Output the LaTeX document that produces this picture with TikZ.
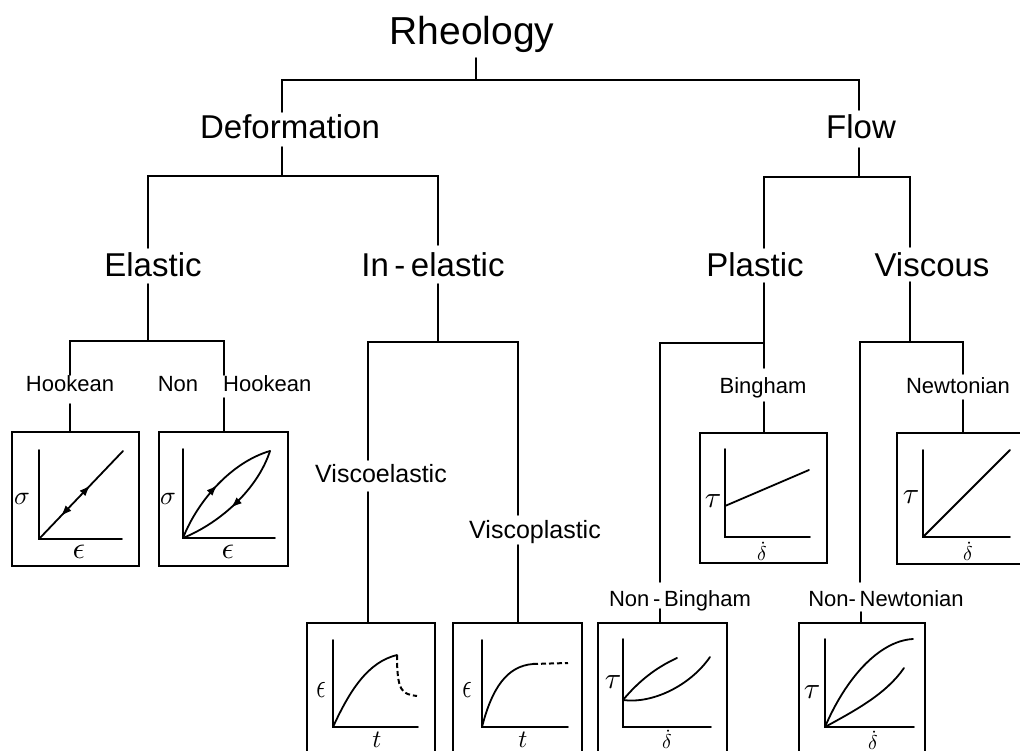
\documentclass[tikz,border=0pt]{standalone}
\usepackage{fontspec}
\setmainfont{Liberation Sans}
\usetikzlibrary{arrows.meta,decorations.markings}
\newcommand{\mysig}{\scalebox{2.6}{$\sigma$}}
\newcommand{\myeps}{\scalebox{3.1}{$\epsilon$}}
\newcommand{\myepsn}{\scalebox{2.3}[3.5]{$\epsilon$}}
\newcommand{\mytau}{\scalebox{3}{$\tau$}}
\newcommand{\myt}{\scalebox{2.5}{$t$}}
\newcommand{\mydd}{\scalebox{2}{$\dot{\delta}$}}
\tikzset{
  conn/.style={line width=1.8pt, line cap=round, line join=miter},
  boxst/.style={draw, line width=2pt, rectangle, minimum width=#1, minimum height=134pt, inner sep=0pt},
  plotl/.style={line width=1.8pt, line cap=round},
  dashl/.style={line width=2pt, dash pattern=on 5pt off 3pt},
  big/.style={anchor=base, inner sep=0pt, font=\fontsize{39}{40}\selectfont},
  mid/.style={anchor=base, inner sep=0pt, font=\fontsize{33}{34}\selectfont},
  sml/.style={anchor=base, inner sep=0pt, font=\fontsize{22}{23}\selectfont},
  smv/.style={anchor=base, inner sep=0pt, font=\fontsize{25}{26}\selectfont},
  axl/.style={inner sep=0pt},
  fwd/.style={postaction={decorate, decoration={markings, mark=at position #1 with {\arrow{Latex[length=11pt,width=8pt]}}}}},
  bwd/.style={postaction={decorate, decoration={markings, mark=at position #1 with {\arrowreversed{Latex[length=11pt,width=8pt]}}}}}
}
\begin{document}
\begin{tikzpicture}[x=1pt,y=-1pt]
\useasboundingbox (0,0) rectangle (1020,751);
\clip (0,0) rectangle (1020,751);

% ---------- text nodes ----------
\node[big] (rheo) at (472,45) {Rheology};
\node[mid] (deform) at (290,139) {Deformation};
\node[mid] (flow) at (861,139) {Flow};
\node[mid] (elastic) at (153,277) {Elastic};
\node[mid] (inelastic) at (433,277) {In\,-\,elastic};
\node[mid] (plastic) at (755,277) {Plastic};
\node[mid] (viscous) at (932,277) {Viscous};
\node[sml] (hooke) at (70,391) {Hookean};
\node[sml] (non) at (178,391) {Non};
\node[sml, anchor=base west] (nhooke) at (223,391) {Hookean};
\node[smv] (visel) at (381,482) {Viscoelastic};
\node[smv] (vispl) at (535,538) {Viscoplastic};
\node[sml] (bing) at (763,393) {Bingham};
\node[sml] (newt) at (958,393) {Newtonian};
\node[sml] (nbing) at (680,606) {Non\,-\,Bingham};
\node[sml] (nnewt) at (886,606) {Non-\,Newtonian};

% ---------- boxes ----------
\node[boxst=127pt] (hbox) at (75.5,499) {};
\node[boxst=129pt] (nhbox) at (223.5,499) {};
\node[boxst=128pt] (vebox) at (371,690) {};
\node[boxst=129pt] (vpbox) at (517.5,690) {};
\node[boxst=127pt, minimum height=130pt] (bbox) at (763.5,498) {};
\node[boxst=128pt, minimum height=131pt] (nwbox) at (961,498.5) {};
\node[boxst=129pt] (nbbox) at (662.5,690) {};
\node[boxst=126pt] (nnbox) at (862,690) {};

% ---------- connector ends ----------
\coordinate (r-out) at (476,58);
\coordinate (bar0) at (476,80);
\coordinate (def-in) at (282,112);
\coordinate (flow-in) at (859,110);
\coordinate (def-out) at (282,147);
\coordinate (bar1) at (282,176);
\coordinate (el-in) at (148,248);
\coordinate (inel-in) at (438,245);
\coordinate (flow-out) at (859,148);
\coordinate (bar2) at (859,177);
\coordinate (pl-in) at (764,248);
\coordinate (vis-in) at (910,247);
\coordinate (el-out) at (148,284);
\coordinate (bar3) at (148,341);
\coordinate (hk-in) at (70,375);
\coordinate (nhk-in) at (224,375);
\coordinate (hk-out) at (70,404);
\coordinate (nhk-out) at (224,398);
\coordinate (inel-out) at (438,284);
\coordinate (bar4) at (438,342);
\coordinate (ve-in) at (368,460);
\coordinate (vp-in) at (518,515);
\coordinate (ve-out) at (368,492);
\coordinate (vp-out) at (518,545);
\coordinate (pl-out) at (764,283);
\coordinate (bar5) at (764,343);
\coordinate (bi-in) at (764,368);
\coordinate (nb-in) at (660,582);
\coordinate (bi-out) at (764,402);
\coordinate (nb-out) at (660,609);
\coordinate (vis-out) at (910,282);
\coordinate (bar6) at (910,342);
\coordinate (nw-in) at (963,374);
\coordinate (nn-in) at (860,582);
\coordinate (nw-out) at (963,400);
\coordinate (nn-out) at (861,612);

% ---------- connectors ----------
\draw[conn] (r-out) -- (bar0);
\draw[conn] (def-in) |- (bar0) -| (flow-in);
\draw[conn] (def-out) -- (bar1);
\draw[conn] (el-in) |- (bar1) -| (inel-in);
\draw[conn] (flow-out) -- (bar2);
\draw[conn] (pl-in) |- (bar2) -| (vis-in);
\draw[conn] (el-out) -- (bar3);
\draw[conn] (hk-in) |- (bar3) -| (nhk-in);
\draw[conn] (hk-out) -- (hk-out |- hbox.north);
\draw[conn] (nhk-out) -- (nhk-out |- nhbox.north);
\draw[conn] (inel-out) -- (bar4);
\draw[conn] (ve-in) |- (bar4) -| (vp-in);
\draw[conn] (ve-out) -- (ve-out |- vebox.north);
\draw[conn] (vp-out) -- (vp-out |- vpbox.north);
\draw[conn] (pl-out) -- (bar5);
\draw[conn] (nb-in) |- (bar5) -- (bi-in);
\draw[conn] (bi-out) -- (bi-out |- bbox.north);
\draw[conn] (nb-out) -- (nb-out |- nbbox.north);
\draw[conn] (vis-out) -- (bar6);
\draw[conn] (nn-in) |- (bar6) -| (nw-in);
\draw[conn] (nw-out) -- (nw-out |- nwbox.north);
\draw[conn] (nn-out) -- (nn-out |- nnbox.north);

% ---------- plots ----------
% Hookean
\draw[plotl] (39,450) -- (39,539) -- (122,539);
\draw[plotl, fwd=0.61, bwd=0.26] (39,539) -- (123,451);
\node[axl] (hk-s) at (22,499) {\mysig};
\node[axl] (hk-e) at (79,552) {\myeps};
% Non Hookean
\draw[plotl] (183,449) -- (183,538) -- (275,538);
\draw[plotl, fwd=0.5] (183,538) .. controls (198,500) and (232,462) .. (270,451);
\draw[plotl, fwd=0.55] (270,451) .. controls (258,488) and (222,522) .. (183,538);
\node[axl] (nh-s) at (168,499) {\mysig};
\node[axl] (nh-e) at (228,552) {\myeps};
% Viscoelastic
\draw[plotl] (333,640) -- (333,727) -- (418,727);
\draw[plotl] (333,727) .. controls (350,690) and (368,662) .. (397,655);
\draw[dashl] (397,655) .. controls (397,692) and (402,694) .. (417,696);
\node[axl] (ve-e) at (321,690) {\myepsn};
\node[axl] (ve-t) at (377,740) {\myt};
% Viscoplastic
\draw[plotl] (482,640) -- (482,727) -- (568,727);
\draw[plotl] (482,727) .. controls (492,688) and (507,666) .. (533,664);
\draw[dashl] (533,664) -- (568,663);
\node[axl] (vp-e) at (467,690) {\myepsn};
\node[axl] (vp-t) at (523,740) {\myt};
% Bingham
\draw[plotl] (725,449) -- (725,537) -- (810,537);
\draw[plotl] (725,506) -- (809,470);
\node[axl] (bi-t) at (713,501) {\mytau};
\node[axl] (bi-d) at (762,551) {\mydd};
% Newtonian
\draw[plotl] (923,450) -- (923,537) -- (1010,537);
\draw[plotl] (923,537) -- (1010,450);
\node[axl] (nw-t) at (911,497) {\mytau};
\node[axl] (nw-d) at (968,551) {\mydd};
% Non-Bingham
\draw[plotl] (623,639) -- (623,727) -- (711,727);
\draw[plotl] (623,700) .. controls (638,682) and (655,668) .. (677,658);
\draw[plotl] (623,700) .. controls (652,704) and (690,686) .. (710,657);
\node[axl] (nb-t) at (613,682) {\mytau};
\node[axl] (nb-d) at (667,739) {\mydd};
% Non-Newtonian
\draw[plotl] (825,639) -- (825,727) -- (914,727);
\draw[plotl] (825,727) .. controls (845,680) and (878,641) .. (913,639);
\draw[plotl] (825,727) .. controls (856,710) and (886,694) .. (904,668);
\node[axl] (nn-t) at (812,692) {\mytau};
\node[axl] (nn-d) at (873,740) {\mydd};
\end{tikzpicture}
\end{document}
